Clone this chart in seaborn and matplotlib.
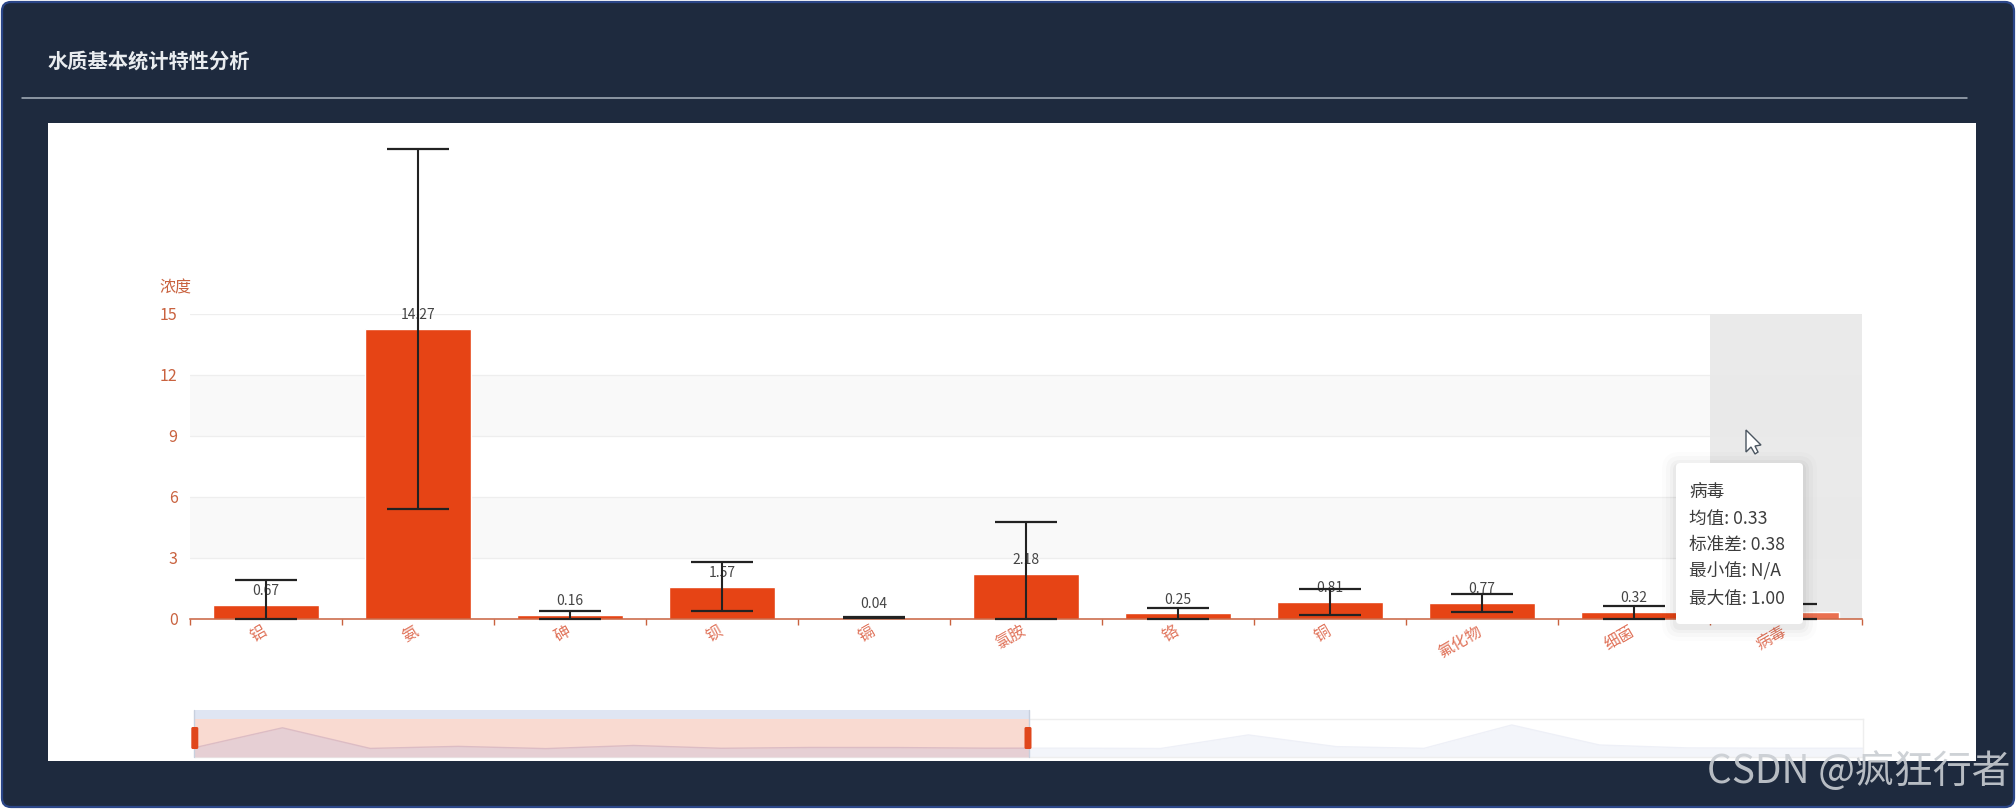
import seaborn as sns
import matplotlib.pyplot as plt
import matplotlib.transforms as mtrans
import numpy as np
import pandas as pd
from matplotlib.patches import FancyBboxPatch, Rectangle, Polygon

W, H = 2016, 809

categories = ['铝', '氨', '砷', '钡', '镉', '氯胺', '铬', '铜', '氟化物', '细菌', '病毒']
means = [0.67, 14.27, 0.16, 1.57, 0.04, 2.18, 0.25, 0.81, 0.77, 0.32, 0.33]
err_low = [0.0, 5.37, 0.0, 0.37, 0.01, 0.0, 0.0, 0.15, 0.33, 0.0, 0.0]
err_high = [1.92, 23.12, 0.39, 2.77, 0.07, 4.73, 0.50, 1.47, 1.21, 0.64, 0.71]
y_ticks = [0, 3, 6, 9, 12, 15]

# 滑块里的缩略图,一共20个点
slider_index = list(range(20))
slider_values = [0.67, 14.27, 0.16, 1.57, 0.04, 2.18, 0.25, 0.81, 0.77, 0.32,
                 0.33, 0.1, 9.4, 1.4, 0.2, 16.2, 2.5, 0.5, 0.3, 0.3]

tooltip_lines = ['病毒', '均值: 0.33', '标准差: 0.38', '最小值: N/A', '最大值: 1.00']

BG = '#1e2a3e'
BAR = '#e64415'
BAR_LIGHT = '#ea7050'
AXIS = '#c9623f'
LABEL = '#e0735a'

sns.set_theme(style='white')
plt.rcParams['font.family'] = ['Noto Sans CJK SC', 'DejaVu Sans']


def px_axes(fig, x0, y0, x1, y1, **kw):
    # 像素坐标(左上角为原点)转成figure坐标
    return fig.add_axes([x0 / W, 1 - y1 / H, (x1 - x0) / W, (y1 - y0) / H], **kw)


def draw_panel(bg):
    bg.add_patch(FancyBboxPatch((2, 2), W - 4, H - 4, boxstyle='round,pad=0,rounding_size=9',
                                fc=BG, ec='#2b4688', lw=1.6))
    bg.add_patch(Rectangle((47.5, 123), 1928.5, 638, fc='white', ec='none'))
    bg.plot([22, 1967], [97.5, 97.5], color='#a9b2bd', lw=1.1)
    bg.text(48, 61, '水质基本统计特性分析', color='#e9ecef', fontsize=14.6,
            fontweight='bold', va='center', ha='left')


def draw_bars(ax):
    df = pd.DataFrame({'name': categories, 'mean': means})
    colors = [BAR] * (len(categories) - 1) + [BAR_LIGHT]
    # 隔行的灰色背景
    for lo, hi in [(3, 6), (9, 12)]:
        ax.axhspan(lo, hi, color='#f9f9f9', lw=0, zorder=0)
    ax.axvspan(9.5, 10.5, color='#e9e9e9', alpha=0.95, lw=0, zorder=1)
    sns.barplot(data=df, x='name', y='mean', hue='name', palette=colors, legend=False,
                width=0.7, saturation=1, ax=ax, zorder=2)
    x = np.arange(len(categories))
    # 最后一个标签被提示框挡住了
    for i, m in enumerate(means[:-1]):
        ax.annotate(f'{m:.2f}', (i, m), xytext=(0, 10), textcoords='offset points',
                    ha='center', va='center', fontsize=10, color='#444444', zorder=3)
    m = np.array(means)
    ax.errorbar(x, m, yerr=[m - np.array(err_low), np.array(err_high) - m], fmt='none',
                ecolor='#222222', elinewidth=1.5, capsize=22, capthick=1.6, zorder=4, clip_on=False)

    ax.set_xlim(-0.5, 10.5)
    ax.set_ylim(0, 15)
    ax.set_yticks(y_ticks)
    ax.set_xlabel('')
    ax.set_ylabel('')
    ax.grid(axis='y', color='#eeeeee', lw=0.9)
    ax.set_axisbelow(True)
    for s in ['top', 'right', 'left']:
        ax.spines[s].set_visible(False)
    ax.spines['bottom'].set_color(AXIS)
    ax.spines['bottom'].set_linewidth(1.1)
    ax.patch.set_alpha(0)
    ax.tick_params(axis='y', length=0, labelsize=11.5, labelcolor=AXIS, pad=9)
    ax.set_xticks(x)
    ax.set_xticklabels(categories)
    ax.set_xticks(np.arange(-0.5, 11), minor=True)
    ax.tick_params(axis='x', which='major', bottom=False, length=0, pad=3)
    ax.tick_params(axis='x', which='minor', bottom=True, length=4, width=1, color=AXIS)
    shift = mtrans.ScaledTranslation(-5 / 100, 0, ax.figure.dpi_scale_trans)
    for t in ax.get_xticklabels():
        t.set(rotation=30, ha='right', va='top', rotation_mode='anchor', color=LABEL, fontsize=11.5)
        t.set_transform(t.get_transform() + shift)


def draw_slider(ax):
    ax.set_xlim(0, 19)
    ax.set_ylim(-5.7, 20.3)
    df = pd.DataFrame({'i': slider_index, 'v': slider_values})
    end = 9.5  # 选中范围 0-50%
    ax.fill_between(df['i'], df['v'], -5.7, color='#f3f5fa', lw=0, zorder=1)
    sns.lineplot(data=df, x='i', y='v', color='#eef0f7', lw=1, ax=ax, zorder=2)
    ax.axvspan(0, end, color='#f9dad1', lw=0, zorder=3)
    clip = Rectangle((0, -5.7), end, 26, transform=ax.transData)
    fill = ax.fill_between(df['i'], df['v'], -5.7, color='#e6cfd4', lw=0, zorder=4)
    fill.set_clip_path(clip)
    line, = ax.plot(df['i'], df['v'], color='#dcbcc4', lw=1, zorder=5)
    line.set_clip_path(clip)
    ax.set_xlabel('')
    ax.set_ylabel('')
    ax.set_xticks([])
    ax.set_yticks([])
    for s in ax.spines.values():
        s.set_color('#eeeeee')
        s.set_linewidth(1)


def draw_overlay(top):
    # 滑块顶部条和手柄
    top.add_patch(Rectangle((194, 709.5), 836, 9, fc='#dfe5f2', ec='none'))
    top.plot([194, 194], [709.5, 757], color='#c8d0de', lw=1, zorder=2)
    top.plot([1029, 1029], [709.5, 757], color='#c8d0de', lw=1, zorder=2)
    for hx in [194.8, 1028]:
        top.add_patch(FancyBboxPatch((hx - 3.5, 727), 7, 22, boxstyle='round,pad=0,rounding_size=1.5',
                                     fc='#e0471c', ec='none', zorder=3))

    # 提示框
    for grow, a in [(14, 0.012), (10, 0.018), (6, 0.025), (3, 0.03)]:
        top.add_patch(FancyBboxPatch((1676 - grow, 463 - grow + 3), 127 + 2 * grow, 161 + 2 * grow,
                                     boxstyle=f'round,pad=0,rounding_size={4 + grow}',
                                     fc='black', ec='none', alpha=a, zorder=4))
    top.add_patch(FancyBboxPatch((1676, 463), 127, 161, boxstyle='round,pad=0,rounding_size=4',
                                 fc='white', ec='none', zorder=5))
    for yy, line in zip([497, 523.7, 550.4, 577, 603.8], tooltip_lines):
        top.text(1689, yy, line, fontsize=12.7, color='#3c3c3c', ha='left', va='baseline', zorder=6)

    # 鼠标
    top.add_patch(Polygon([(1746, 430), (1746, 452), (1751, 447), (1755, 454), (1758, 452),
                           (1755, 446), (1761, 445)], closed=True, fc='white', ec='#4a5560', lw=1, zorder=6))

    # 水印
    top.text(1707, 772, 'CSDN @疯狂行者', fontsize=28, color='#c9cdd2', ha='left', va='center',
             alpha=0.9, zorder=7)


fig = plt.figure(figsize=(W / 100, H / 100), dpi=100, facecolor='white')

bg = px_axes(fig, 0, 0, W, H)
bg.set_xlim(0, W)
bg.set_ylim(H, 0)
bg.axis('off')
draw_panel(bg)

ax = px_axes(fig, 190, 314, 1862, 618.5)
draw_bars(ax)
bg.text(175, 288, '浓度', fontsize=11.5, color=AXIS, ha='center', va='center')

slider = px_axes(fig, 194.6, 719, 1863, 757)
draw_slider(slider)

top = px_axes(fig, 0, 0, W, H)
top.set_xlim(0, W)
top.set_ylim(H, 0)
top.axis('off')
top.patch.set_alpha(0)
draw_overlay(top)

fig.savefig('out.png', dpi=100, facecolor='white')
